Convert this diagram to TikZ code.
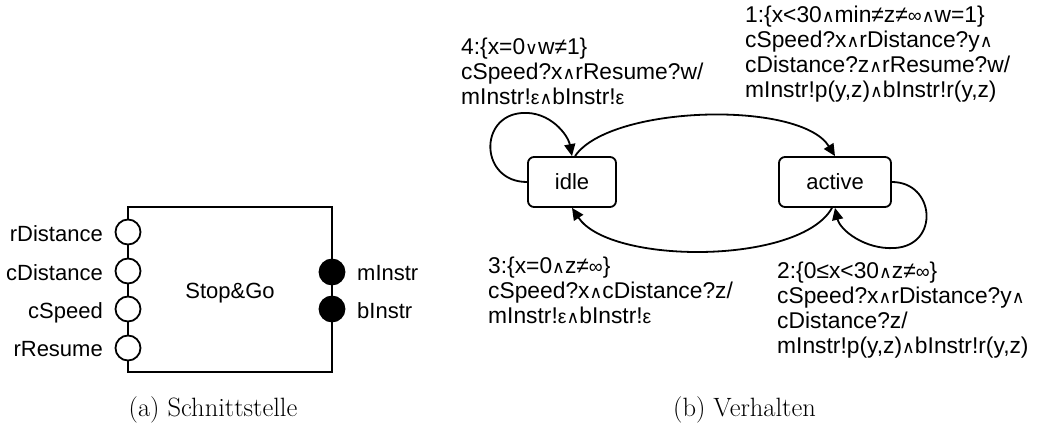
\documentclass[tikz,border=0pt]{standalone}
\usepackage{fontspec}
\newfontfamily\arialf{Liberation Sans}
\newfontfamily\symf{DejaVu Sans}
\usetikzlibrary{arrows.meta}

% small logical / greek symbols used inside the transition labels
\newcommand{\wedgeS}{{\symf\fontsize{17.5}{17.5}\selectfont ∧}}
\newcommand{\veeS}{{\symf\fontsize{17.5}{17.5}\selectfont ∨}}
\newcommand{\epsS}{{\fontsize{19.5}{19.5}\selectfont ε}}
\newcommand{\infS}{{\fontsize{19.5}{19.5}\selectfont ∞}}

\begin{document}
\begin{tikzpicture}[x=1pt,y=-1pt,
  dtext/.style={font=\arialf\fontsize{22}{25}\selectfont, inner sep=0pt, align=left},
  ttext/.style={font=\arialf\fontsize{22.8}{25}\selectfont, inner sep=0pt, align=left},
  captext/.style={font=\fontsize{26.5}{26.5}\selectfont, inner sep=0pt},
  statebox/.style={draw, line width=1.8pt, rounded corners=6pt, minimum height=50pt,
    inner sep=0pt, font=\arialf\fontsize{22}{25}\selectfont},
  inport/.style={circle, draw, fill=white, line width=1.8pt, minimum size=25pt, inner sep=0pt},
  outport/.style={circle, draw, fill=black, line width=1.8pt, minimum size=25pt, inner sep=0pt},
  trans/.style={line width=1.8pt, -{Triangle[length=12pt,width=11pt]}}
]
\useasboundingbox (0,0) rectangle (1040,425);

% ---- (a) interface of the component ----
\node[draw, line width=1.8pt, minimum width=204pt, minimum height=165pt, inner sep=0pt] (comp) at (230,289.5) {};
\node[dtext, anchor=base] (compname) at (230,298) {Stop\&Go};

\node[inport] (pRD) at (128,232) {};
\node[inport] (pCD) at (128,271) {};
\node[inport] (pCS) at (128,309) {};
\node[inport] (pRR) at (128,348) {};
\node[outport] (pMI) at (332,272) {};
\node[outport] (pBI) at (332,309) {};

\node[dtext, anchor=base east] (tRD) at (103,241) {rDistance};
\node[dtext, anchor=base east] (tCD) at (103,280) {cDistance};
\node[dtext, anchor=base east] (tCS) at (103,318) {cSpeed};
\node[dtext, anchor=base east] (tRR) at (103,356) {rResume};
\node[dtext, anchor=base west] (tMI) at (357,280) {mInstr};
\node[dtext, anchor=base west] (tBI) at (357,318) {bInstr};

\node[captext, anchor=base] (capA) at (213,416) {(a) Schnittstelle};

% ---- (b) behaviour as a state machine ----
\node[statebox, minimum width=88pt] (idle) at (572,182) {idle};
\node[statebox, minimum width=112pt] (active) at (835,182) {active};

\draw[trans] (idle.west) .. controls (480,182) and (478,116) .. (522,113)
  .. controls (550,111) and (568,135) .. (idle.north);
\draw[trans] ([xshift=3pt]idle.north) .. controls (610,105) and (800,100) .. (active.north);
\draw[trans] (active.east) .. controls (935,182) and (940,245) .. (895,248)
  .. controls (865,250) and (840,230) .. (active.south);
\draw[trans] ([xshift=-3pt]active.south) .. controls (800,265) and (610,265) .. (idle.south);

% multi-line labels: the base anchor sits on the last line
\node[ttext, anchor=base west] (lab4) at (461,105)
  {4:\{x=0\veeS w≠1\}\\cSpeed?x\wedgeS rResume?w/\\mInstr!\epsS\wedgeS bInstr!\epsS};
\node[ttext, anchor=base west] (lab1) at (745,98)
  {1:\{x<30\wedgeS min≠z≠\infS\wedgeS w=1\}\\cSpeed?x\wedgeS rDistance?y\wedgeS\\cDistance?z\wedgeS rResume?w/\\mInstr!p(y,z)\wedgeS bInstr!r(y,z)};
\node[ttext, anchor=base west] (lab3) at (488,323)
  {3:\{x=0\wedgeS z≠\infS\}\\cSpeed?x\wedgeS cDistance?z/\\mInstr!\epsS\wedgeS bInstr!\epsS};
\node[ttext, anchor=base west] (lab2) at (777,353)
  {2:\{0≤x<30\wedgeS z≠\infS\}\\cSpeed?x\wedgeS rDistance?y\wedgeS\\cDistance?z/\\mInstr!p(y,z)\wedgeS bInstr!r(y,z)};

\node[captext, anchor=base] (capB) at (744.5,416) {(b) Verhalten};
\end{tikzpicture}
\end{document}
